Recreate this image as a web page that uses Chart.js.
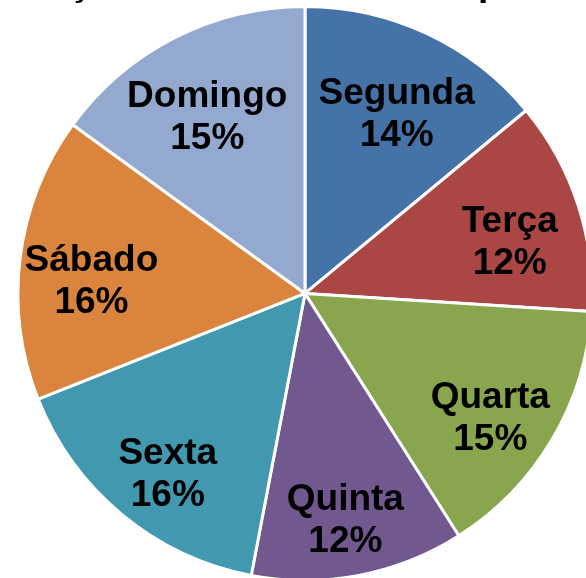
<!DOCTYPE html>
<html>
<head>
<meta charset="utf-8">
<script src="https://cdn.jsdelivr.net/npm/chart.js@4.4.1/dist/chart.umd.min.js"></script>
<style>
  html, body { margin:0; padding:0; background:#fff; overflow:hidden; width:586px; height:578px; }
  #wrap { position:absolute; left:-82px; top:-36px; width:774px; height:618px; }
</style>
</head>
<body>
<div id="wrap"><canvas id="chart"></canvas></div>
<script>
// chart data
const chartTitle = 'Distribuição dos Atendimentos por Dia';
const days = ['Segunda', 'Terça', 'Quarta', 'Quinta', 'Sexta', 'Sábado', 'Domingo'];
const shares = [14, 12, 15, 12, 16, 16, 15];
const sliceColors = ['#4572A7', '#AA4643', '#89A54E', '#71588F', '#4198AF', '#DB843D', '#93A9CF'];

const font = 'bold 37px "Liberation Sans", Arial, sans-serif';

// labels inside each slice: name + percent
const sliceLabels = {
  id: 'sliceLabels',
  afterDatasetsDraw(chart){
    const ctx = chart.ctx;
    const meta = chart.getDatasetMeta(0);
    const total = shares.reduce((a,b)=>a+b, 0);
    ctx.save();
    ctx.font = font;
    ctx.fillStyle = '#000';
    ctx.textAlign = 'center';
    ctx.textBaseline = 'alphabetic';
    meta.data.forEach((arc, i)=>{
      const p = arc.getProps(['x','y','startAngle','endAngle','outerRadius'], true);
      const mid = (p.startAngle + p.endAngle) / 2;
      const r = p.outerRadius * 0.75;
      const cx = p.x + Math.cos(mid) * r;
      const cy = p.y + Math.sin(mid) * r;
      const pct = Math.round(shares[i] / total * 100) + '%';
      ctx.fillText(days[i], cx, cy + 5);
      ctx.fillText(pct, cx, cy + 47);
    });
    ctx.restore();
  }
};

new Chart(document.getElementById('chart'), {
  type: 'pie',
  data: {
    labels: days,
    datasets: [{ data: shares, backgroundColor: sliceColors, borderColor: '#fff', borderWidth: 3 }]
  },
  options: {
    responsive: true,
    maintainAspectRatio: false,
    animation: false,
    layout: { padding: 0 },
    plugins: {
      legend: { display: false },
      tooltip: { enabled: false },
      title: {
        display: true,
        text: chartTitle,
        align: 'start',
        color: '#000',
        padding: { top: 0, bottom: 0 },
        font: { family: '"Liberation Sans", Arial, sans-serif', size: 37.2, weight: 'bold', lineHeight: 1.1 }
      }
    }
  },
  plugins: [sliceLabels]
});
</script>
</body>
</html>
